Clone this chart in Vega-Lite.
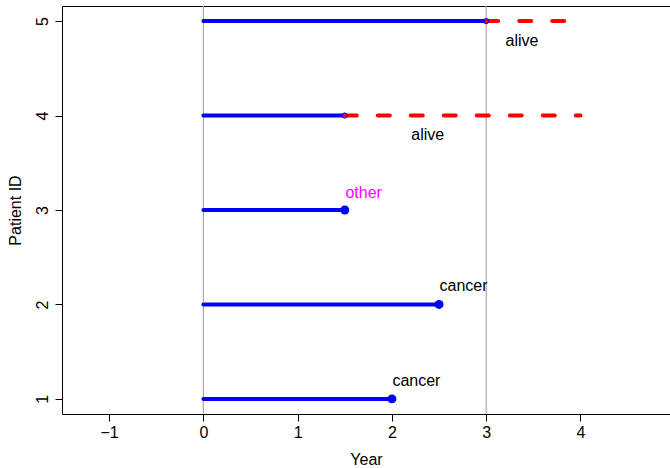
{
  "$schema": "https://vega.github.io/schema/vega-lite/v6.json",
  "autosize": {"type": "none"},
  "width": 608,
  "height": 408,
  "padding": {"left": 62, "top": 6, "right": 0, "bottom": 54},
  "config": {
    "view": {"stroke": null},
    "font": "Liberation Sans",
    "axis": {
      "labelFont": "Liberation Sans",
      "titleFont": "Liberation Sans",
      "labelFontSize": 16,
      "titleFontSize": 16,
      "titleFontWeight": "normal",
      "labelColor": "#000",
      "titleColor": "#000",
      "domainColor": "#000",
      "tickColor": "#000",
      "tickSize": 7,
      "grid": false
    }
  },
  "datasets": {
    "seg": [
      {"id": 1, "start": 0, "end": 2},
      {"id": 2, "start": 0, "end": 2.5},
      {"id": 3, "start": 0, "end": 1.5},
      {"id": 4, "start": 0, "end": 1.5},
      {"id": 5, "start": 0, "end": 3}
    ],
    "cens": [
      {"id": 4, "start": 1.5, "end": 4},
      {"id": 5, "start": 3, "end": 3.85}
    ],
    "events": [
      {"id": 1, "time": 2},
      {"id": 2, "time": 2.5},
      {"id": 3, "time": 1.5}
    ],
    "censpts": [
      {"id": 4, "time": 1.5},
      {"id": 5, "time": 3}
    ],
    "labels": [
      {"x": 2.26, "y": 1.19, "label": "cancer", "kind": "cancer"},
      {"x": 2.76, "y": 2.2, "label": "cancer", "kind": "cancer"},
      {"x": 1.7, "y": 3.18, "label": "other", "kind": "other"},
      {"x": 2.38, "y": 3.79, "label": "alive", "kind": "alive"},
      {"x": 3.38, "y": 4.79, "label": "alive", "kind": "alive"}
    ],
    "refs": [{"x": 0}, {"x": 3}]
  },
  "resolve": {"axis": {"x": "independent", "y": "independent"}},
  "layer": [
    {
      "data": {"name": "refs"},
      "mark": {"type": "rule", "color": "#a9a9a9", "strokeWidth": 1.2},
      "encoding": {
        "x": {
          "field": "x", "type": "quantitative",
          "scale": {"domain": [-1.5, 4.95], "nice": false, "zero": false},
          "axis": {"orient": "top", "labels": false, "ticks": false, "title": null, "domain": true}
        }
      }
    },
    {
      "data": {"name": "seg"},
      "mark": {"type": "rule", "color": "#0000ff", "strokeWidth": 4, "strokeCap": "round"},
      "encoding": {
        "x": {
          "field": "start", "type": "quantitative",
          "scale": {"domain": [-1.5, 4.95], "nice": false, "zero": false},
          "axis": {"orient": "bottom", "values": [-1, 0, 1, 2, 3, 4], "title": "Year", "labelPadding": 3, "titlePadding": 11, "labelFlush": false}
        },
        "x2": {"field": "end"},
        "y": {
          "field": "id", "type": "quantitative",
          "scale": {"domain": [0.84, 5.16], "nice": false, "zero": false},
          "axis": {"orient": "left", "values": [1, 2, 3, 4, 5], "title": "Patient ID", "labelAngle": 270, "labelPadding": 5, "titlePadding": 11, "labelFlush": false}
        }
      }
    },
    {
      "data": {"name": "cens"},
      "mark": {"type": "rule", "color": "#ff0000", "strokeWidth": 4, "strokeCap": "round", "strokeDash": [12, 21]},
      "encoding": {
        "x": {"field": "start", "type": "quantitative", "axis": null},
        "x2": {"field": "end"},
        "y": {"field": "id", "type": "quantitative", "axis": null}
      }
    },
    {
      "data": {"name": "events"},
      "mark": {"type": "point", "shape": "circle", "filled": true, "color": "#0000ff", "size": 80, "opacity": 1},
      "encoding": {
        "x": {"field": "time", "type": "quantitative", "axis": null},
        "y": {"field": "id", "type": "quantitative", "axis": null}
      }
    },
    {
      "data": {"name": "censpts"},
      "mark": {"type": "point", "shape": "circle", "filled": false, "stroke": "#0000ff", "strokeWidth": 1, "size": 28, "opacity": 1},
      "encoding": {
        "x": {"field": "time", "type": "quantitative", "axis": null},
        "y": {"field": "id", "type": "quantitative", "axis": null}
      }
    },
    {
      "data": {"name": "labels"},
      "mark": {"type": "text", "fontSize": 16, "font": "Liberation Sans", "align": "center", "baseline": "middle"},
      "encoding": {
        "x": {"field": "x", "type": "quantitative", "axis": null},
        "y": {"field": "y", "type": "quantitative", "axis": null},
        "text": {"field": "label"},
        "color": {
          "field": "kind", "type": "nominal",
          "scale": {"domain": ["cancer", "other", "alive"], "range": ["#000000", "#ff00ff", "#000000"]},
          "legend": null
        }
      }
    }
  ]
}
